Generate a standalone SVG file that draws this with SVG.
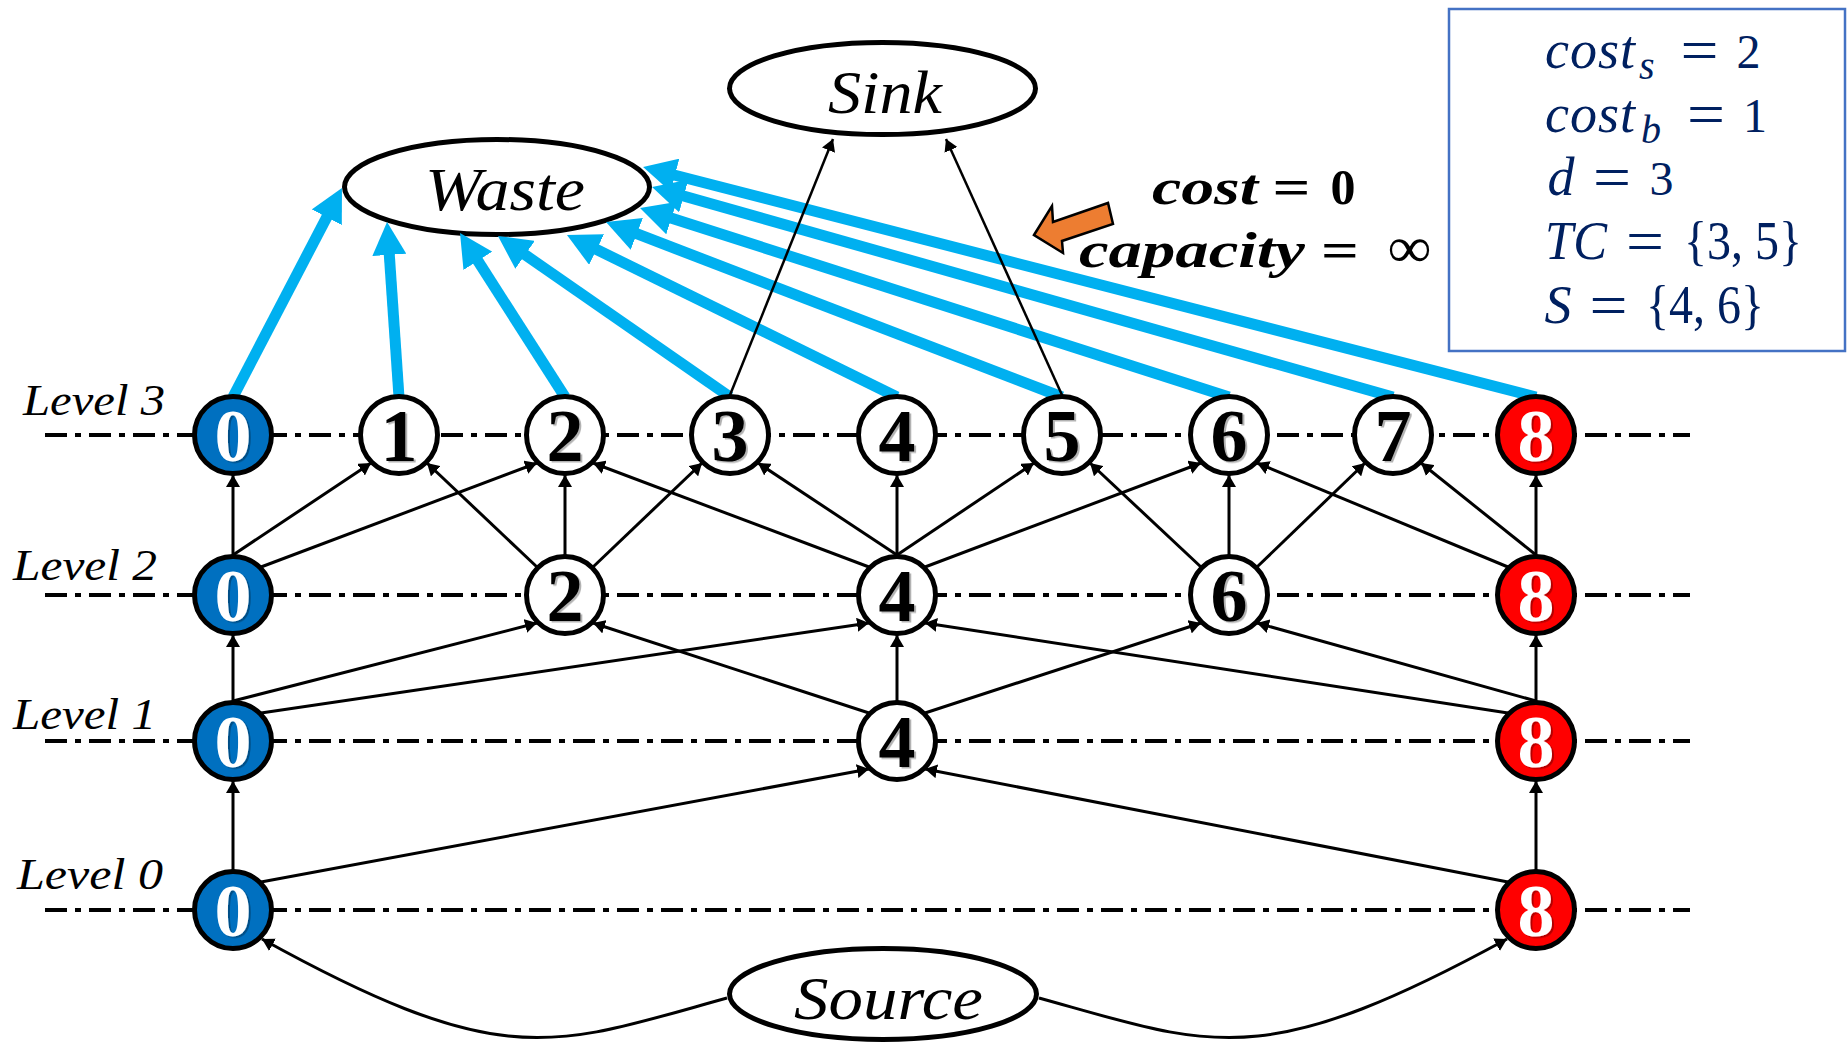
<svg xmlns="http://www.w3.org/2000/svg" width="1847" height="1044" viewBox="0 0 1847 1044">
  <style>
    .lvl { fill:none; stroke:#000; stroke-width:4; stroke-dasharray:22 8 6 8; }
    .lab { font-family:"Liberation Serif", serif; font-style:italic; font-size:44px; fill:#000; }
    .nd circle { stroke:#000; stroke-width:5; }
    .dg { font-family:"Liberation Serif", serif; font-weight:bold; font-size:74px; text-anchor:middle; filter:url(#sh); }
    .ell { fill:#fff; stroke:#000; stroke-width:5; }
    .big { font-family:"Liberation Serif", serif; font-style:italic; font-size:62px; fill:#000; }
    .e { fill:none; stroke:#000; stroke-width:3; marker-end:url(#ah); }
    .es { fill:none; stroke:#000; stroke-width:2.5; marker-end:url(#ah); }
    .w { fill:none; stroke:#00B0F0; stroke-width:11; marker-end:url(#ahc); }
    .m { font-family:"Liberation Serif", serif; font-size:54px; fill:#002060; }
    .num { font-family:"Liberation Serif", serif; font-size:48px; fill:#002060; text-anchor:middle; }
    .mi { font-style:italic; }
    .eq { font-family:"Liberation Serif", serif; font-size:60px; fill:#002060; text-anchor:middle; }
    .sb { font-size:40px; letter-spacing:0; }
    .c { text-anchor:middle; }
    .k { font-family:"Liberation Serif", serif; font-weight:bold; font-size:50px; fill:#000; }
  </style>
  <defs>
    <marker id="ah" viewBox="0 0 12 14" refX="12" refY="7" markerWidth="12" markerHeight="14" markerUnits="userSpaceOnUse" orient="auto">
      <path d="M0,0 L12,7 L0,14 z" fill="#000"/>
    </marker>
    <marker id="ahc" viewBox="-3 -17 33 34" refX="0" refY="0" markerWidth="33" markerHeight="34" markerUnits="userSpaceOnUse" orient="auto">
      <path d="M-3,-17 L30,0 L-3,17 z" fill="#00B0F0"/>
    </marker>
    <filter id="sh" x="-20%" y="-20%" width="140%" height="140%">
      <feDropShadow dx="2" dy="1.5" stdDeviation="0.6" flood-color="#000" flood-opacity="0.3"/>
    </filter>
  </defs>

  <!-- level guide lines -->
  <g id="levels">
    <line class="lvl" x1="45" y1="435" x2="1690" y2="435"/>
    <line class="lvl" x1="45" y1="595" x2="1690" y2="595"/>
    <line class="lvl" x1="45" y1="741" x2="1690" y2="741"/>
    <line class="lvl" x1="45" y1="910" x2="1690" y2="910"/>
    <text class="lab" x="23" y="415" textLength="142" lengthAdjust="spacingAndGlyphs">Level 3</text>
    <text class="lab" x="13" y="580" textLength="144" lengthAdjust="spacingAndGlyphs">Level 2</text>
    <text class="lab" x="13" y="729" textLength="143" lengthAdjust="spacingAndGlyphs">Level 1</text>
    <text class="lab" x="17" y="889" textLength="146" lengthAdjust="spacingAndGlyphs">Level 0</text>
  </g>

  <!-- terminal nodes -->
  <g id="waste">
    <ellipse class="ell" cx="497" cy="187" rx="152.5" ry="47.5"/>
    <text class="big" x="425" y="210" textLength="160" lengthAdjust="spacingAndGlyphs">Waste</text>
  </g>
  <g id="sink">
    <ellipse class="ell" cx="882.5" cy="88.5" rx="153" ry="46"/>
    <text class="big" x="828" y="113" textLength="114" lengthAdjust="spacingAndGlyphs">Sink</text>
  </g>
  <g id="source">
    <ellipse class="ell" cx="883" cy="994" rx="153.5" ry="45.5"/>
    <text class="big" x="794" y="1019" textLength="189" lengthAdjust="spacingAndGlyphs">Source</text>
  </g>

  <!-- connectors -->
  <g id="connectors">
    <!-- waste edges (cost 0, infinite capacity) -->
    <path class="w" d="M233,397 L328.1,214.6"/>
    <path class="w" d="M399,397 L389.1,251.9"/>
    <path class="w" d="M565,397 L476.2,258.3"/>
    <path class="w" d="M730,397 L522.6,253.1"/>
    <path class="w" d="M897,397 L593.9,248.2"/>
    <path class="w" d="M1062,397 L634,232.7"/>
    <path class="w" d="M1229,397 L668.6,217.2"/>
    <path class="w" d="M1393,397 L680.9,195.2"/>
    <path class="w" d="M1536,397 L672.1,174.5"/>

    <!-- source edges -->
    <path class="e" d="M727,998 C554,1046 506,1074 262,939"/>
    <path class="e" d="M1039,998 C1212,1046 1260,1074 1507,939"/>

    <!-- level 0 to level 1 -->
    <path class="e" d="M233,870 L233,781"/>
    <path class="e" d="M261,882 L869,769"/>
    <path class="e" d="M1508,882 L925,769"/>
    <path class="e" d="M1536,870 L1536,781"/>

    <!-- level 1 to level 2 -->
    <path class="e" d="M233,701 L233,635"/>
    <path class="e" d="M233,701 L537,623"/>
    <path class="e" d="M261,713 L869,623"/>
    <path class="e" d="M869,713 L593,623"/>
    <path class="e" d="M897,701 L897,635"/>
    <path class="e" d="M925,713 L1201,623"/>
    <path class="e" d="M1508,713 L925,623"/>
    <path class="e" d="M1536,701 L1257,623"/>
    <path class="e" d="M1536,701 L1536,635"/>

    <!-- level 2 to level 3 -->
    <path class="e" d="M233,555 L233,475"/>
    <path class="e" d="M233,555 L371,463"/>
    <path class="e" d="M261,567 L537,463"/>
    <path class="e" d="M537,567 L427,463"/>
    <path class="e" d="M565,555 L565,475"/>
    <path class="e" d="M593,567 L702,463"/>
    <path class="e" d="M869,567 L593,463"/>
    <path class="e" d="M897,555 L758,463"/>
    <path class="e" d="M897,555 L897,475"/>
    <path class="e" d="M897,555 L1034,463"/>
    <path class="e" d="M925,567 L1201,463"/>
    <path class="e" d="M1201,567 L1090,463"/>
    <path class="e" d="M1229,555 L1229,475"/>
    <path class="e" d="M1257,567 L1365,463"/>
    <path class="e" d="M1508,567 L1257,463"/>
    <path class="e" d="M1536,555 L1421,463"/>
    <path class="e" d="M1536,555 L1536,475"/>

    <!-- sink edges -->
    <path class="es" d="M730,395 L833,139"/>
    <path class="es" d="M1062,395 L946,139"/>
  </g>

  <!-- level 3 nodes -->
  <g id="n3-0" class="nd"><circle cx="233" cy="435" r="38.5" fill="#0070C0"/><text class="dg" x="233" y="461" fill="#fff">0</text></g>
  <g id="n3-1" class="nd"><circle cx="399" cy="435" r="38.5" fill="#fff"/><text class="dg" x="399" y="461">1</text></g>
  <g id="n3-2" class="nd"><circle cx="565" cy="435" r="38.5" fill="#fff"/><text class="dg" x="565" y="461">2</text></g>
  <g id="n3-3" class="nd"><circle cx="730" cy="435" r="38.5" fill="#fff"/><text class="dg" x="730" y="461">3</text></g>
  <g id="n3-4" class="nd"><circle cx="897" cy="435" r="38.5" fill="#fff"/><text class="dg" x="897" y="461">4</text></g>
  <g id="n3-5" class="nd"><circle cx="1062" cy="435" r="38.5" fill="#fff"/><text class="dg" x="1062" y="461">5</text></g>
  <g id="n3-6" class="nd"><circle cx="1229" cy="435" r="38.5" fill="#fff"/><text class="dg" x="1229" y="461">6</text></g>
  <g id="n3-7" class="nd"><circle cx="1393" cy="435" r="38.5" fill="#fff"/><text class="dg" x="1393" y="461">7</text></g>
  <g id="n3-8" class="nd"><circle cx="1536" cy="435" r="38.5" fill="#FF0000"/><text class="dg" x="1536" y="461" fill="#fff">8</text></g>

  <!-- level 2 nodes -->
  <g id="n2-0" class="nd"><circle cx="233" cy="595" r="38.5" fill="#0070C0"/><text class="dg" x="233" y="621" fill="#fff">0</text></g>
  <g id="n2-2" class="nd"><circle cx="565" cy="595" r="38.5" fill="#fff"/><text class="dg" x="565" y="621">2</text></g>
  <g id="n2-4" class="nd"><circle cx="897" cy="595" r="38.5" fill="#fff"/><text class="dg" x="897" y="621">4</text></g>
  <g id="n2-6" class="nd"><circle cx="1229" cy="595" r="38.5" fill="#fff"/><text class="dg" x="1229" y="621">6</text></g>
  <g id="n2-8" class="nd"><circle cx="1536" cy="595" r="38.5" fill="#FF0000"/><text class="dg" x="1536" y="621" fill="#fff">8</text></g>

  <!-- level 1 nodes -->
  <g id="n1-0" class="nd"><circle cx="233" cy="741" r="38.5" fill="#0070C0"/><text class="dg" x="233" y="767" fill="#fff">0</text></g>
  <g id="n1-4" class="nd"><circle cx="897" cy="741" r="38.5" fill="#fff"/><text class="dg" x="897" y="767">4</text></g>
  <g id="n1-8" class="nd"><circle cx="1536" cy="741" r="38.5" fill="#FF0000"/><text class="dg" x="1536" y="767" fill="#fff">8</text></g>

  <!-- level 0 nodes -->
  <g id="n0-0" class="nd"><circle cx="233" cy="910" r="38.5" fill="#0070C0"/><text class="dg" x="233" y="936" fill="#fff">0</text></g>
  <g id="n0-8" class="nd"><circle cx="1536" cy="910" r="38.5" fill="#FF0000"/><text class="dg" x="1536" y="936" fill="#fff">8</text></g>

  <!-- waste edge annotation -->
  <g id="annotation">
    <polygon points="1034,235 1052,206 1053,222 1108,203 1113,224 1062,241 1063,253" fill="#ED7D31" stroke="#000" stroke-width="2.5" stroke-linejoin="miter"/>
    <text class="k mi" x="1152" y="204" textLength="106" lengthAdjust="spacingAndGlyphs">cost</text>
    <text class="k c" x="1291.5" y="204" textLength="38" lengthAdjust="spacingAndGlyphs">=</text>
    <text class="k c" x="1343" y="204">0</text>
    <text class="k mi" x="1079" y="267" textLength="226" lengthAdjust="spacingAndGlyphs">capacity</text>
    <text class="k c" x="1340" y="267" textLength="38" lengthAdjust="spacingAndGlyphs">=</text>
    <text class="c" x="1409.5" y="267" font-family="Liberation Serif, serif" font-size="58px" textLength="44" lengthAdjust="spacingAndGlyphs">∞</text>
  </g>

  <!-- parameter box -->
  <g id="params">
    <rect x="1449" y="9" width="396" height="342" fill="none" stroke="#4472C4" stroke-width="2.5"/>
    <text class="m mi" x="1545" y="68" letter-spacing="1">cost<tspan class="sb" x="1639" y="79">s</tspan></text>
    <text class="eq" x="1699.5" y="70" textLength="38" lengthAdjust="spacingAndGlyphs">=</text>
    <text class="num" x="1748.5" y="68">2</text>

    <text class="m mi" x="1545" y="132" letter-spacing="1">cost<tspan class="sb" x="1641" y="143">b</tspan></text>
    <text class="eq" x="1706" y="134" textLength="38" lengthAdjust="spacingAndGlyphs">=</text>
    <text class="num" x="1755" y="132">1</text>

    <text class="m mi c" x="1561" y="195">d</text>
    <text class="eq" x="1612" y="197" textLength="38" lengthAdjust="spacingAndGlyphs">=</text>
    <text class="num" x="1661.5" y="195">3</text>

    <text class="m mi" x="1545" y="259" textLength="62" lengthAdjust="spacingAndGlyphs">TC</text>
    <text class="eq" x="1645" y="261" textLength="38" lengthAdjust="spacingAndGlyphs">=</text>
    <text class="m" x="1684" y="259" textLength="118" lengthAdjust="spacingAndGlyphs">{3, 5}</text>

    <text class="m mi c" x="1558" y="323">S</text>
    <text class="eq" x="1608.5" y="325" textLength="38" lengthAdjust="spacingAndGlyphs">=</text>
    <text class="m" x="1646" y="323" textLength="118" lengthAdjust="spacingAndGlyphs">{4, 6}</text>
  </g>
</svg>
